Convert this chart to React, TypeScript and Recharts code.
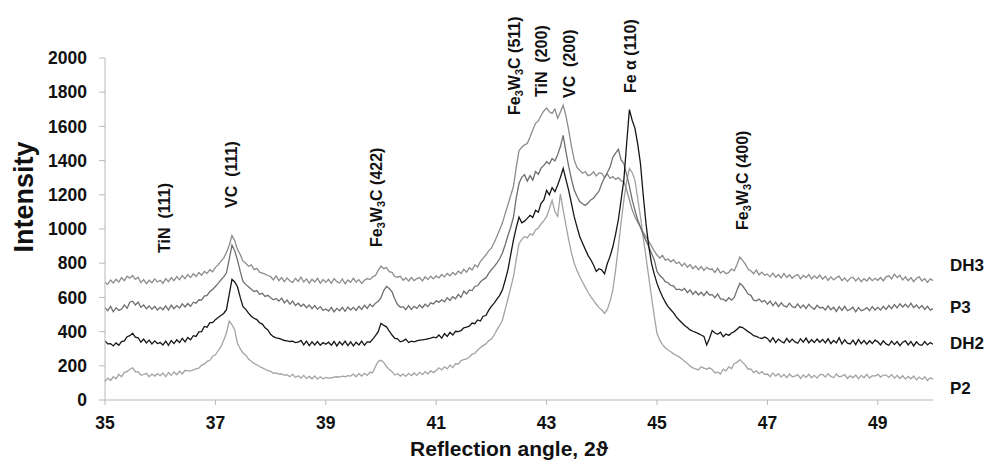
import { LineChart, Line, XAxis, YAxis, ReferenceDot } from 'recharts'

const FONT = "'Liberation Sans', Arial, Helvetica, sans-serif"

// scan grid: 35.00 .. 50.00 deg, 0.05 deg step
const START = 35
const STEP = 0.05

const dh3 = [
  688, 676, 702, 684, 706, 690, 716, 698, 724, 712, 728, 706, 718, 686, 704, 680, 700, 686, 708, 690,
  700, 682, 710, 692, 716, 698, 722, 704, 728, 710, 734, 716, 738, 722, 746, 730, 752, 740, 762, 750,
  776, 790, 812, 830, 862, 905, 962, 932, 880, 850, 812, 800, 782, 790, 762, 770, 748, 742, 736, 728,
  722, 702, 726, 698, 716, 692, 714, 696, 688, 712, 694, 718, 690, 708, 684, 706, 690, 712, 682, 704,
  688, 706, 682, 710, 692, 684, 708, 680, 702, 688, 712, 690, 704, 682, 700, 710, 704, 720, 728, 758,
  784, 768, 774, 750, 746, 722, 718, 724, 700, 714, 696, 716, 698, 710, 716, 696, 720, 704, 724, 708,
  726, 714, 734, 720, 740, 726, 746, 732, 754, 740, 764, 748, 774, 760, 790, 778, 810, 830, 848, 872,
  888, 920, 958, 996, 1036, 1090, 1142, 1196, 1250, 1360, 1458, 1478, 1492, 1500, 1538, 1580, 1618, 1632, 1664, 1690,
  1708, 1686, 1676, 1702, 1648, 1684, 1724, 1662, 1580, 1484, 1404, 1360, 1344, 1326, 1336, 1312, 1318, 1334, 1310, 1328,
  1326, 1300, 1322, 1296, 1306, 1290, 1300, 1282, 1276, 1230, 1170, 1112, 1072, 1040, 1012, 980, 956, 928, 900, 872,
  848, 830, 846, 818, 824, 808, 820, 798, 806, 784, 800, 776, 792, 768, 784, 762, 780, 758, 776, 764,
  766, 746, 770, 742, 754, 738, 746, 766, 756, 792, 836, 816, 794, 766, 756, 738, 760, 732, 748, 730,
  736, 720, 742, 718, 734, 714, 740, 716, 732, 712, 726, 734, 708, 728, 716, 734, 708, 726, 712, 730,
  706, 724, 700, 720, 702, 716, 724, 698, 714, 694, 712, 718, 696, 714, 692, 710, 696, 716, 698, 712,
  700, 716, 696, 720, 726, 708, 736, 716, 730, 702, 720, 698, 716, 692, 712, 720, 696, 710, 688, 708,
  698,
]

const p3 = [
  540, 522, 548, 516, 540, 524, 532, 556, 536, 572, 578, 556, 572, 542, 556, 534, 550, 530, 548, 526,
  542, 528, 550, 526, 554, 534, 552, 538, 562, 544, 564, 548, 572, 566, 586, 584, 608, 612, 634, 646,
  664, 682, 702, 720, 744, 822, 906, 872, 818, 752, 694, 676, 662, 648, 634, 640, 618, 624, 606, 612,
  598, 586, 594, 578, 596, 568, 584, 560, 578, 552, 566, 548, 560, 540, 556, 534, 552, 530, 546, 524,
  532, 520, 542, 516, 536, 522, 542, 518, 544, 526, 542, 524, 548, 530, 554, 536, 560, 546, 566, 578,
  598, 640, 664, 652, 632, 590, 558, 542, 546, 528, 552, 530, 548, 536, 556, 540, 560, 546, 568, 562,
  580, 572, 586, 574, 598, 582, 604, 592, 618, 600, 636, 620, 644, 640, 664, 668, 690, 704, 714, 740,
  762, 780, 802, 826, 860, 908, 962, 1010, 1070, 1182, 1266, 1302, 1318, 1280, 1312, 1286, 1336, 1320, 1356, 1372,
  1394, 1380, 1412, 1398, 1434, 1482, 1548, 1452, 1366, 1292, 1228, 1192, 1160, 1148, 1138, 1152, 1170, 1180, 1202, 1222,
  1266, 1300, 1330, 1362, 1420, 1444, 1466, 1404, 1382, 1318, 1250, 1170, 1110, 1054, 1010, 968, 932, 898, 858, 820,
  752, 728, 714, 692, 686, 670, 668, 646, 648, 640, 652, 628, 644, 618, 636, 614, 630, 610, 634, 614,
  616, 598, 620, 590, 590, 578, 598, 584, 600, 644, 682, 668, 646, 620, 612, 584, 580, 590, 574, 582,
  560, 578, 552, 572, 546, 568, 550, 544, 566, 546, 540, 562, 538, 556, 534, 560, 542, 530, 554, 538,
  542, 526, 550, 528, 542, 518, 546, 524, 548, 522, 530, 542, 516, 540, 522, 528, 540, 522, 546, 526,
  542, 526, 548, 530, 552, 534, 558, 538, 562, 544, 560, 542, 566, 540, 556, 536, 552, 530, 548, 526,
  534,
]

const dh2 = [
  346, 328, 330, 316, 334, 320, 342, 346, 370, 376, 390, 368, 364, 338, 356, 334, 350, 328, 346, 330,
  336, 322, 344, 320, 348, 330, 352, 336, 360, 340, 366, 352, 376, 372, 398, 400, 430, 426, 452, 452,
  470, 482, 494, 506, 528, 616, 706, 690, 662, 600, 546, 530, 508, 490, 478, 470, 452, 444, 422, 410,
  384, 370, 364, 360, 354, 348, 346, 342, 344, 336, 338, 348, 322, 344, 318, 340, 322, 342, 320, 336,
  326, 338, 320, 342, 316, 340, 322, 344, 318, 340, 316, 338, 322, 344, 320, 340, 338, 356, 376, 400,
  448, 436, 428, 402, 380, 360, 358, 340, 346, 356, 336, 344, 340, 346, 350, 352, 354, 358, 362, 368,
  364, 380, 362, 388, 372, 396, 380, 402, 400, 406, 422, 426, 432, 450, 446, 468, 462, 490, 494, 524,
  548, 566, 590, 612, 644, 700, 762, 850, 936, 1008, 1070, 1036, 1046, 1062, 1080, 1068, 1110, 1098, 1150, 1170,
  1226, 1200, 1242, 1218, 1256, 1302, 1354, 1290, 1226, 1150, 1072, 1012, 956, 918, 882, 846, 820, 790, 752, 768,
  760, 738, 798, 840, 896, 970, 1054, 1170, 1288, 1500, 1698, 1636, 1590, 1498, 1384, 1200, 1034, 900, 800, 736,
  682, 640, 604, 572, 546, 528, 510, 486, 468, 452, 436, 424, 410, 402, 396, 388, 380, 372, 322, 360,
  406, 392, 384, 396, 370, 386, 378, 392, 400, 414, 428, 424, 412, 400, 390, 376, 372, 364, 360, 368,
  360, 340, 364, 336, 356, 342, 334, 360, 338, 356, 340, 332, 358, 338, 362, 334, 352, 336, 356, 338,
  354, 334, 358, 330, 348, 334, 364, 328, 352, 332, 328, 350, 324, 354, 330, 348, 326, 346, 330, 350,
  340, 322, 346, 328, 320, 344, 324, 342, 318, 338, 346, 322, 342, 316, 340, 324, 320, 342, 322, 336,
  326,
]

const p2 = [
  108, 128, 114, 136, 124, 150, 136, 162, 166, 180, 188, 164, 164, 146, 148, 156, 136, 152, 140, 154,
  142, 158, 136, 160, 144, 164, 148, 168, 152, 174, 170, 170, 176, 182, 186, 204, 210, 226, 232, 256,
  264, 288, 312, 350, 392, 462, 440, 410, 332, 300, 274, 262, 240, 226, 214, 206, 196, 188, 180, 172,
  168, 156, 158, 152, 152, 144, 148, 136, 150, 132, 142, 128, 144, 126, 138, 124, 140, 122, 136, 124,
  132, 128, 130, 134, 136, 134, 140, 136, 142, 140, 152, 136, 154, 140, 156, 144, 162, 160, 196, 226,
  232, 220, 196, 178, 166, 146, 154, 140, 152, 138, 156, 142, 158, 144, 162, 148, 166, 152, 170, 160,
  172, 188, 176, 194, 182, 204, 190, 212, 210, 230, 236, 240, 250, 268, 272, 292, 306, 318, 328, 346,
  356, 380, 410, 436, 468, 530, 592, 656, 722, 822, 914, 938, 956, 948, 972, 964, 994, 1006, 1030, 1048,
  1072, 1118, 1168, 1102, 1074, 1206, 1110, 1022, 936, 862, 800, 758, 722, 690, 660, 630, 604, 582, 560, 540,
  526, 506, 530, 578, 644, 760, 896, 1040, 1170, 1278, 1354, 1330, 1286, 1180, 1072, 952, 838, 720, 604, 492,
  390, 350, 324, 306, 292, 282, 270, 262, 252, 240, 226, 214, 198, 188, 182, 176, 194, 186, 180, 188,
  178, 158, 164, 152, 180, 170, 194, 184, 214, 220, 236, 220, 204, 180, 182, 160, 170, 154, 166, 150,
  152, 136, 158, 140, 154, 134, 150, 130, 152, 136, 140, 148, 126, 146, 132, 150, 130, 144, 128, 148,
  150, 134, 154, 138, 130, 152, 136, 140, 148, 126, 142, 130, 146, 124, 144, 130, 150, 128, 142, 140,
  150, 134, 146, 146, 132, 148, 128, 144, 126, 142, 122, 138, 124, 140, 118, 134, 120, 136, 114, 130,
  122,
]

const xTicks = [35, 37, 39, 41, 43, 45, 47, 49]
const yTicks = [0, 200, 400, 600, 800, 1000, 1200, 1400, 1600, 1800, 2000]

// reflection labels: angle, intensity where the text starts, text (_3 = subscript)
const peaks = [
  { angle: 36.07, at: 860, text: 'TiN  (111)' },
  { angle: 37.29, at: 1123, text: 'VC  (111)' },
  { angle: 39.91, at: 895, text: 'Fe_3W_3C (422)' },
  { angle: 42.41, at: 1667, text: 'Fe_3W_3C (511)' },
  { angle: 42.9, at: 1772, text: 'TiN  (200)' },
  { angle: 43.41, at: 1766, text: 'VC  (200)' },
  { angle: 44.52, at: 1795, text: 'Fe \u03b1 (110)' },
  { angle: 46.54, at: 994, text: 'Fe_3W_3C (400)' },
]

const series = [
  { key: 'P2', data: p2, color: '#a3a3a3', shift: 9 },
  { key: 'DH3', data: dh3, color: '#8c8c8c', shift: -16 },
  { key: 'P3', data: p3, color: '#6f6f6f', shift: -2 },
  { key: 'DH2', data: dh2, color: '#161616', shift: -1 },
]

const angles = dh3.map((_, i) => +(START + i * STEP).toFixed(2))
const rows = angles.map((angle, i) => ({
  angle,
  DH3: dh3[i],
  P3: p3[i],
  DH2: dh2[i],
  P2: p2[i],
}))

function splitSub(text: string) {
  return text.split(/(_\d)/).filter(Boolean)
}

function PeakLabel(props: any) {
  const { viewBox, text } = props
  if (!viewBox) return null
  const cx = viewBox.x + viewBox.width / 2
  const cy = viewBox.y + viewBox.height / 2
  return (
    <text
      transform={`translate(${cx + 5.5}, ${cy}) rotate(-90)`}
      fontFamily={FONT}
      fontWeight={700}
      fontSize={16}
      fill="#111"
      style={{ whiteSpace: 'pre' }}
    >
      {splitSub(text).map((part, i) =>
        part.startsWith('_') ? (
          <tspan key={i} dy={3} fontSize={11}>
            {part.slice(1)}
          </tspan>
        ) : (
          <tspan key={i} dy={i > 0 ? -3 : 0}>
            {part}
          </tspan>
        ),
      )}
    </text>
  )
}

function SeriesName(props: any) {
  const { viewBox, name, shift } = props
  if (!viewBox) return null
  const cx = viewBox.x + viewBox.width / 2
  const cy = viewBox.y + viewBox.height / 2
  return (
    <text x={cx + 17} y={cy + shift + 6} fontFamily={FONT} fontWeight={700} fontSize={17} fill="#111">
      {name}
    </text>
  )
}

function XTitle(props: any) {
  const { viewBox } = props
  return (
    <text
      x={viewBox.x + viewBox.width / 2 - 10}
      y={456}
      textAnchor="middle"
      fontFamily={FONT}
      fontWeight={700}
      fontSize={21}
      fill="#111"
    >
      Reflection angle, 2ϑ
    </text>
  )
}

function YTitle() {
  return (
    <text
      transform="translate(33, 197) rotate(-90)"
      textAnchor="middle"
      fontFamily={FONT}
      fontWeight={700}
      fontSize={27}
      fill="#111"
    >
      Intensity
    </text>
  )
}

const tickStyle = { fill: '#111', fontSize: 17.5, fontWeight: 700, fontFamily: FONT }

export default function App() {
  const last = rows.length - 1
  return (
    <div style={{ position: 'absolute', left: 0, top: 0, width: 985, height: 464, background: '#fff' }}>
      <LineChart width={985} height={464} data={rows} margin={{ top: 58, right: 52, left: 55, bottom: 34 }}>
        <XAxis
          type="number"
          dataKey="angle"
          domain={[35, 50]}
          ticks={xTicks}
          interval={0}
          height={30}
          tickSize={5}
          tickMargin={12}
          tick={tickStyle}
          axisLine={{ stroke: '#b8b8b8' }}
          tickLine={{ stroke: '#b8b8b8' }}
          label={<XTitle />}
        />
        <YAxis
          type="number"
          domain={[0, 2000]}
          ticks={yTicks}
          interval={0}
          width={50}
          tickSize={6}
          tickMargin={12}
          tick={tickStyle}
          axisLine={{ stroke: '#b8b8b8' }}
          tickLine={{ stroke: '#b8b8b8' }}
          label={<YTitle />}
        />
        {series.map((s) => (
          <Line
            key={s.key}
            type="linear"
            dataKey={s.key}
            stroke={s.color}
            strokeWidth={1.3}
            dot={false}
            activeDot={false}
            isAnimationActive={false}
          />
        ))}
        {series.map((s) => (
          <ReferenceDot
            key={`name-${s.key}`}
            x={angles[last]}
            y={s.data[last]}
            r={1}
            fill="none"
            stroke="none"
            label={<SeriesName name={s.key} shift={s.shift} />}
          />
        ))}
        {peaks.map((p) => (
          <ReferenceDot
            key={p.text}
            x={p.angle}
            y={p.at}
            r={1}
            fill="none"
            stroke="none"
            label={<PeakLabel text={p.text} />}
          />
        ))}
      </LineChart>
    </div>
  )
}
